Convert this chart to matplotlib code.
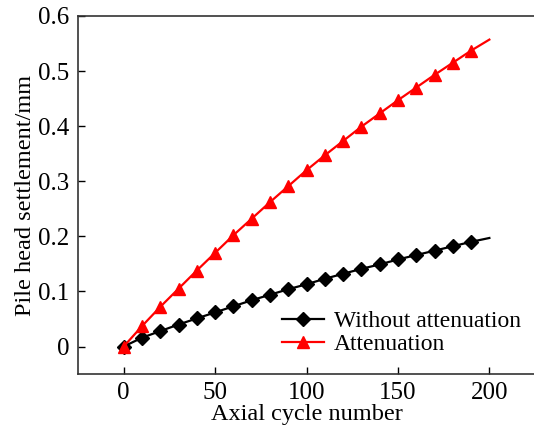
import matplotlib
matplotlib.use("Agg")
import matplotlib.pyplot as plt

plt.rcParams["font.family"] = ["Liberation Serif", "DejaVu Serif"]
plt.rcParams["mathtext.fontset"] = "stix"

# data
cycles = [0, 10, 20, 30, 40, 50, 60, 70, 80, 90, 100,
          110, 120, 130, 140, 150, 160, 170, 180, 190, 200]
without_att = [0, 0.016, 0.028, 0.040, 0.051, 0.062, 0.073, 0.084, 0.094, 0.104, 0.113,
               0.123, 0.132, 0.141, 0.149, 0.158, 0.166, 0.174, 0.182, 0.190, 0.197]
with_att = [0, 0.037, 0.072, 0.105, 0.138, 0.170, 0.202, 0.232, 0.262, 0.291, 0.320,
            0.347, 0.373, 0.399, 0.423, 0.447, 0.470, 0.493, 0.515, 0.537, 0.557]
x_ticks = [0, 50, 100, 150, 200]
y_ticks = [0, 0.1, 0.2, 0.3, 0.4, 0.5, 0.6]
y_ticklabels = ["0", "0.1", "0.2", "0.3", "0.4", "0.5", "0.6"]

fig = plt.figure(figsize=(5.34, 4.30), dpi=100)
ax = fig.add_axes([0.146, 0.130, 0.856, 0.833])

marks = list(range(len(cycles) - 1))  # no marker on the last point
ax.plot(cycles, without_att, color="black", lw=1.6, marker="D", markersize=7.5,
        markevery=marks, label="Without attenuation")
ax.plot(cycles, with_att, color="red", lw=1.6, marker="^", markersize=9,
        markevery=marks, label="Attenuation")

ax.set_xlim(-25, 225)
ax.set_ylim(-0.05, 0.6)
ax.set_xticks(x_ticks)
ax.set_yticks(y_ticks)
ax.set_yticklabels(y_ticklabels)
ax.tick_params(direction="in", length=5, width=1, labelsize=18, pad=6)
ax.spines["right"].set_visible(False)
for s in ("left", "bottom", "top"):
    ax.spines[s].set_linewidth(1.2)
    ax.spines[s].set_color("#333333")

ax.set_xlabel("Axial cycle number", fontsize=17.5, labelpad=0)
ax.set_ylabel("Pile head settlement/mm", fontsize=17.5, labelpad=2)

ax.legend(loc="lower right", bbox_to_anchor=(1.0, 0.014), frameon=False,
          fontsize=17, handlelength=1.8, handletextpad=0.4, labelspacing=0.05,
          borderaxespad=0.2)

fig.savefig("out.png", dpi=100, facecolor="white")
